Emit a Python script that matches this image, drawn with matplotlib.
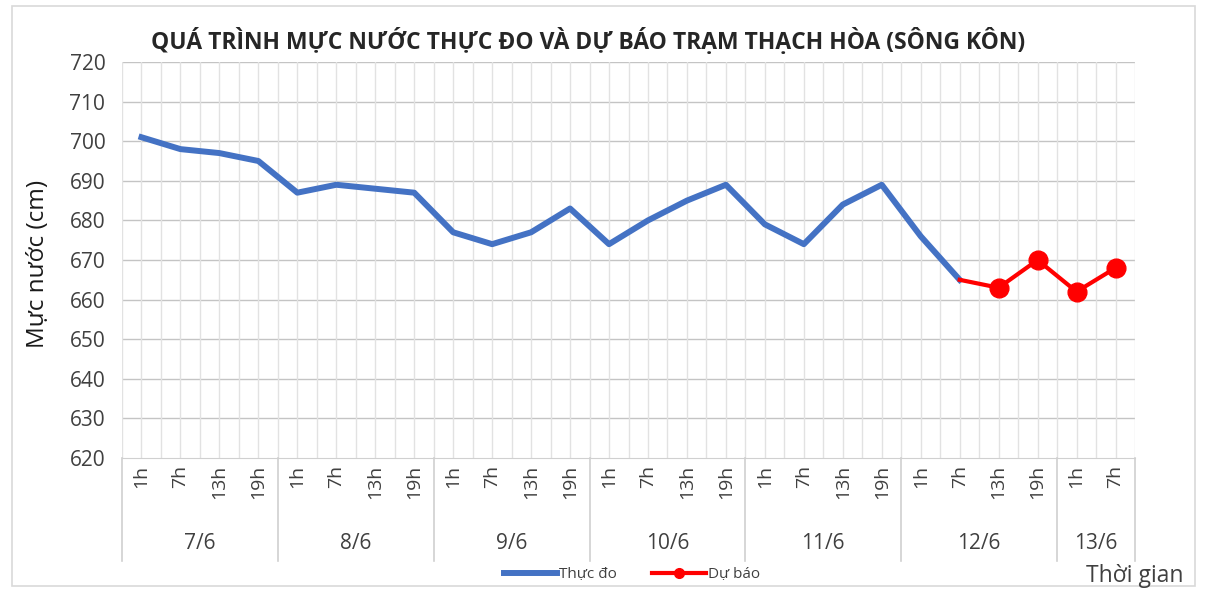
#!/usr/bin/env python3

import matplotlib
matplotlib.use('Agg')
import matplotlib.pyplot as plt
from matplotlib.patches import Rectangle
from matplotlib.lines import Line2D

FONT = ['Open Sans', 'Noto Sans', 'DejaVu Sans']
plt.rcParams['font.family'] = FONT

# data
DAYS = ['7/6', '8/6', '9/6', '10/6', '11/6', '12/6', '13/6']
HOURS = [['1h', '7h', '13h', '19h']] * 6 + [['1h', '7h']]
MEASURED = [701, 698, 697, 695, 687, 689, 688, 687, 677, 674, 677, 683,
            674, 680, 685, 689, 679, 674, 684, 689, 676, 665]
FORECAST = [665, 663, 670, 662, 668]
FORECAST_START = 21  # index of 7h 12/6, where the forecast picks up
YTICKS = list(range(620, 721, 10))

BLUE = '#4472c4'
RED = '#ff0000'
GRID = '#c4c4c4'
VGRID = '#e2e2e2'
TXT = '#404040'

labels = [h for day in HOURS for h in day]
n = len(labels)

fig = plt.figure(figsize=(12.06, 5.9), dpi=100)
W, H = 1206, 590
ax = fig.add_axes([122 / W, 1 - 458 / H, 1013 / W, 396 / H])

# chart area border
fig.patches.append(Rectangle((12 / W, 4 / H), 1183 / W, 580 / H, transform=fig.transFigure,
                             fill=False, edgecolor='#d9d9d9', linewidth=1.2))

ax.set_xlim(-0.5, n - 0.5)
ax.set_ylim(620, 720)
ax.set_yticks(YTICKS)
ax.tick_params(axis='y', length=0, labelsize=15, colors=TXT, pad=12)
ax.set_xticks([])
for side in ['top', 'right', 'left']:
    ax.spines[side].set_visible(False)
ax.spines['bottom'].set_color('#d0d0d0')

# gridlines
for y in YTICKS[1:]:
    ax.axhline(y, color=GRID, linewidth=1, zorder=0)
for i in range(2 * n + 1):
    ax.axvline(-0.5 + i * 0.5, color=VGRID, linewidth=1, zorder=0)

# data
xs = list(range(len(MEASURED)))
ax.plot(xs, MEASURED, color=BLUE, linewidth=4.3, solid_joinstyle='round', zorder=3)
fx = list(range(FORECAST_START, FORECAST_START + len(FORECAST)))
ax.plot(fx, FORECAST, color=RED, linewidth=3, marker='o', markersize=13.5,
        markevery=list(range(1, len(FORECAST))), zorder=4)

# category axis: hours and day groups
trans = ax.get_xaxis_transform()
for i, lab in enumerate(labels):
    ax.text(i, -0.018, lab, transform=trans, rotation=90, ha='center', va='top',
            fontsize=14, color=TXT)
pos = 0
bounds = [0]
for day, hrs in zip(DAYS, HOURS):
    ax.text(pos + (len(hrs) - 1) / 2, -0.215, day, transform=trans, ha='center', va='center',
            fontsize=15, color=TXT)
    pos += len(hrs)
    bounds.append(pos)
for b in bounds:
    ax.add_line(Line2D([b - 0.5, b - 0.5], [0, -0.26], transform=trans, color='#d0d0d0',
                       linewidth=1.2, clip_on=False))

fig.text(588 / W, 1 - 42 / H, 'QUÁ TRÌNH MỰC NƯỚC THỰC ĐO VÀ DỰ BÁO TRẠM THẠCH HÒA (SÔNG KÔN)',
         ha='center', va='center', fontsize=16.5, fontweight='bold', color='#262626')
ax.set_ylabel('Mực nước (cm)', fontsize=17.5, color='#1a1a1a')
ax.yaxis.set_label_coords(-72 / 1013, 0.49)
fig.text(1135 / W, 1 - 576 / H, 'Thời gian', ha='center', va='center', fontsize=16.5, color=TXT)

handles = [Line2D([], [], color=BLUE, linewidth=4.3),
           Line2D([], [], color=RED, linewidth=3, marker='o', markersize=7)]
fig.legend(handles, ['Thực đo', 'Dự báo'], loc='center', bbox_to_anchor=(632 / W, 1 - 575 / H),
           ncol=2, frameon=False, fontsize=11, handlelength=3.5, handletextpad=0.15,
           columnspacing=2.3, labelcolor=TXT)

fig.savefig('out.png', dpi=100)
